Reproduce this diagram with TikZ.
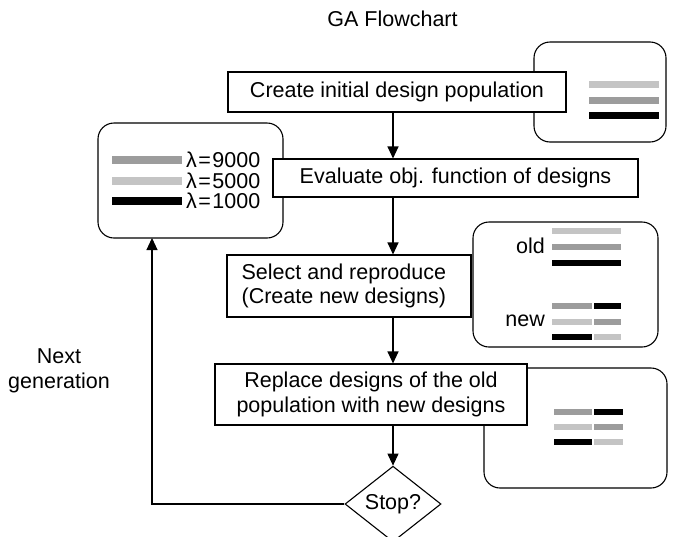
\documentclass[tikz,border=0pt]{standalone}
\usepackage{fontspec}
\setmainfont{Liberation Sans}
\usetikzlibrary{arrows.meta,shapes.geometric}
\definecolor{lg}{RGB}{196,196,196}
\definecolor{mg}{RGB}{156,156,156}
\begin{document}
\begin{tikzpicture}[x=1pt,y=-1pt,
  every node/.style={font=\fontsize{21.5}{24.5}\selectfont, inner sep=0pt},
  stepbox/.style={draw, line width=1.1pt, fill=white, rectangle},
  roundbox/.style={draw, line width=1.1pt, rounded corners=16pt},
  arr/.style={line width=1.1pt, -{Triangle[width=11pt,length=12pt]}},
  bar/.style={line width=7pt, line cap=butt},
  sbar/.style={line width=6pt, line cap=butt}]
\useasboundingbox (0,0) rectangle (680,536);

% title
\node (title) at (392.5,19) {GA Flowchart};

% rounded side boxes
\draw[roundbox] (534,42) rectangle (666,142);
\draw[roundbox] (98,123) rectangle (283,238);
\draw[roundbox] (473,222) rectangle (658,347);
\draw[roundbox] (484,368) rectangle (667,488);
\coordinate (rbLs) at (190.5,238);

% bars in top-right box
\draw[bar,lg] (589,84) -- (659,84);
\draw[bar,mg] (589,100) -- (659,100);
\draw[bar,black] (589,115) -- (659,115);

% left legend
\draw[line width=8pt,mg] (112,160) -- (182,160);
\draw[line width=8pt,lg] (112,181) -- (182,181);
\draw[line width=8pt,black] (112,201) -- (182,201);
\node[anchor=west] (l1) at (186,160) {λ\kern1.5pt=\kern1.5pt9000};
\node[anchor=west] (l2) at (186,180.5) {λ\kern1.5pt=\kern1.5pt5000};
\node[anchor=west] (l3) at (186,201) {λ\kern1.5pt=\kern1.5pt1000};

% old/new box
\node[anchor=east] (old) at (545,246) {old};
\draw[sbar,lg] (552,231) -- (621,231);
\draw[sbar,mg] (552,247) -- (621,247);
\draw[sbar,black] (552,263) -- (621,263);
\node[anchor=east] (new) at (545,321) {new};
\draw[sbar,mg] (552,306) -- (592,306);
\draw[sbar,black] (594,306) -- (621,306);
\draw[sbar,lg] (552,322) -- (592,322);
\draw[sbar,mg] (594,322) -- (621,322);
\draw[sbar,black] (552,337) -- (592,337);
\draw[sbar,lg] (594,337) -- (621,337);

% bottom-right box bars
\draw[sbar,mg] (554,412) -- (592,412);
\draw[sbar,black] (594,412) -- (623,412);
\draw[sbar,lg] (554,427) -- (592,427);
\draw[sbar,mg] (594,427) -- (623,427);
\draw[sbar,black] (554,442) -- (592,442);
\draw[sbar,lg] (594,442) -- (623,442);

% main flow boxes
\node[stepbox, minimum width=338pt, minimum height=40pt] (b1) at (397,92) {Create initial design population};
\node[stepbox, minimum width=365pt, minimum height=38pt] (b2) at (455.5,178) {Evaluate obj. function of designs};
\node[stepbox, minimum width=244pt, minimum height=62pt] (b3) at (349,286) {};
\node[anchor=west, align=left] (b3t) at ([xshift=15pt]b3.west) {Select and reproduce\\(Create new designs)};
\node[stepbox, minimum width=312pt, minimum height=61pt, align=center] (b4) at (371,394.5) {Replace designs of the old\\population with new designs};
\node[draw, line width=1.1pt, fill=white, diamond, minimum width=96pt, minimum height=58pt] (d) at (393,504) {Stop?};

% connectors
\draw[arr] (b1.south -| d.north) -- (b2.north -| d.north);
\draw[arr] (b2.south -| d.north) -- (b3.north -| d.north);
\draw[arr] (b3.south -| d.north) -- (b4.north -| d.north);
\draw[arr] (b4.south -| d.north) -- (d.north);
\coordinate (fb) at (152,504);
\draw[arr] (d.west) -- (fb) -- (fb |- rbLs);

\node[align=center] (next) at (59,371) {Next\\generation};
\end{tikzpicture}
\end{document}
